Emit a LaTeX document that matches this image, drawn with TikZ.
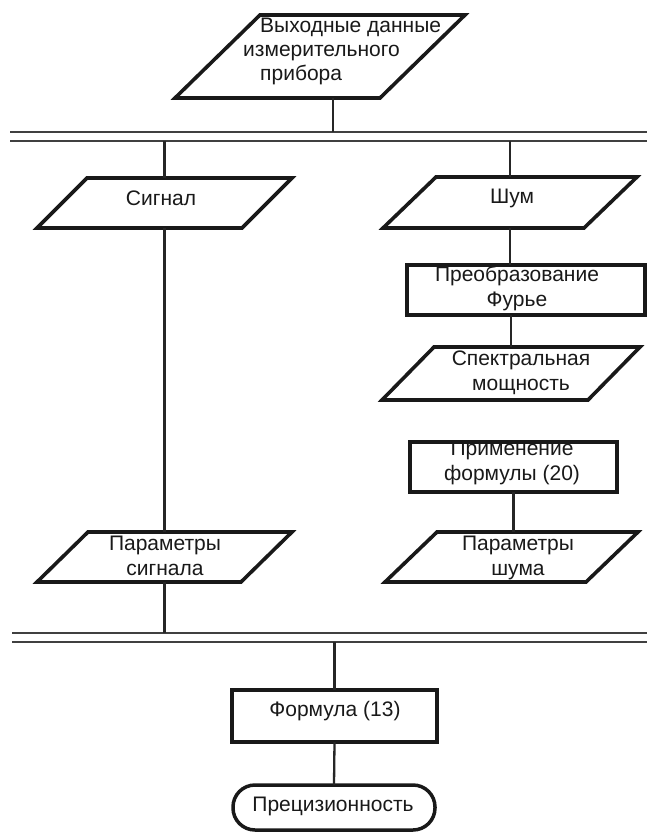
\documentclass[tikz,border=0pt]{standalone}
\usepackage{fontspec}
\setmainfont{Liberation Sans}
\begin{document}
\begin{tikzpicture}[x=1pt,y=-1pt,
  shp/.style={draw=none, inner sep=0pt, outer sep=0pt},
  border/.style={line width=3.6pt, draw=black!90, line join=miter},
  conn/.style={line width=2.3pt, draw=black!85},
  busline/.style={line width=1.7pt, draw=black!75},
  txt/.style={inner sep=0pt, font=\fontsize{21}{25}\selectfont, align=center, text=black!90},
  boxst/.style={draw=black!90, line width=4pt, inner sep=0pt, outer sep=0pt}]
\useasboundingbox[fill=white] (0,0) rectangle (647,834);

% bus coordinates
\coordinate (b1al) at (10,132);  \coordinate (b1ar) at (647,132);
\coordinate (b1bl) at (10,141);  \coordinate (b1br) at (647,141);
\coordinate (b2al) at (12,633);  \coordinate (b2ar) at (647,633);
\coordinate (b2bl) at (12,642);  \coordinate (b2br) at (647,642);
\draw[busline] (b1al) -- (b1ar);
\draw[busline] (b1bl) -- (b1br);
\draw[busline] (b2al) -- (b2ar);
\draw[busline] (b2bl) -- (b2br);

% shapes
\node[shp, minimum width=290pt, minimum height=83pt] (top) at (320,56.5) {};
\node[shp, minimum width=255pt, minimum height=50pt] (sig) at (164.5,203) {};
\node[shp, minimum width=254pt, minimum height=51pt] (noise) at (510,202.5) {};
\node[boxst, minimum width=238pt, minimum height=50pt] (fourier) at (526,290) {};
\node[shp, minimum width=258pt, minimum height=53pt] (spec) at (511,373.5) {};
\node[boxst, minimum width=207pt, minimum height=50pt] (appl) at (513.5,467) {};
\node[shp, minimum width=255pt, minimum height=50pt] (psig) at (164.5,557) {};
\node[shp, minimum width=253pt, minimum height=50pt] (pnoise) at (511.5,557) {};
\node[boxst, line width=3.5pt, minimum width=205pt, minimum height=52pt] (formula) at (334.5,716) {};
\node[boxst, line width=3.5pt, rounded corners=22pt, minimum width=202pt, minimum height=45pt] (prec) at (334,807.5) {};

\foreach \n/\s in {top/85pt,sig/50pt,noise/53pt,spec/52pt,psig/51pt,pnoise/52pt}
  \draw[border] ([xshift=\s]\n.north west) -- (\n.north east) -- ([xshift=-\s]\n.south east) -- (\n.south west) -- cycle;

% texts
\node[txt, align=left, anchor=west, font=\fontsize{21}{24}\selectfont] (top-t) at (243,51)
  {\hspace*{17pt}Выходные данные\\измерительного\\\hspace*{17pt}прибора};
\node[txt] (sig-t) at (161,198) {Сигнал};
\node[txt] (noise-t) at (512,198) {Шум};
\node[txt] (fourier-t) at (517,288) {Преобразование\\Фурье};
\node[txt] (spec-t) at (521,373) {Спектральная\\мощность};
\node[txt] (appl-t) at (512,463) {Применение\\формулы (20)};
\node[txt] (psig-t) at (165,556) {Параметры\\сигнала};
\node[txt] (pnoise-t) at (518,558) {Параметры\\шума};
\node[txt] (formula-t) at (335,711) {Формула (13)};
\node[txt] (prec-t) at (333,806) {Прецизионность};

% connectors
\draw[conn] ([xshift=13pt]top.south) -- ([xshift=13pt]top.south |- b1al);
\draw[conn] (sig.north |- b1bl) -- (sig.north);
\draw[conn] (noise.north |- b1bl) -- (noise.north);
\draw[conn] (sig.south) -- (psig.north);
\draw[conn] (noise.south) -- (noise.south |- fourier.north);
\draw[conn] (spec.north |- fourier.south) -- (spec.north);
\draw[conn] (appl.south) -- (appl.south |- pnoise.north);
\draw[conn] (psig.south) -- (psig.south |- b2al);
\draw[conn] (formula.north |- b2bl) -- (formula.north);
\draw[conn] (formula.south) -- (prec.north);
\end{tikzpicture}
\end{document}
